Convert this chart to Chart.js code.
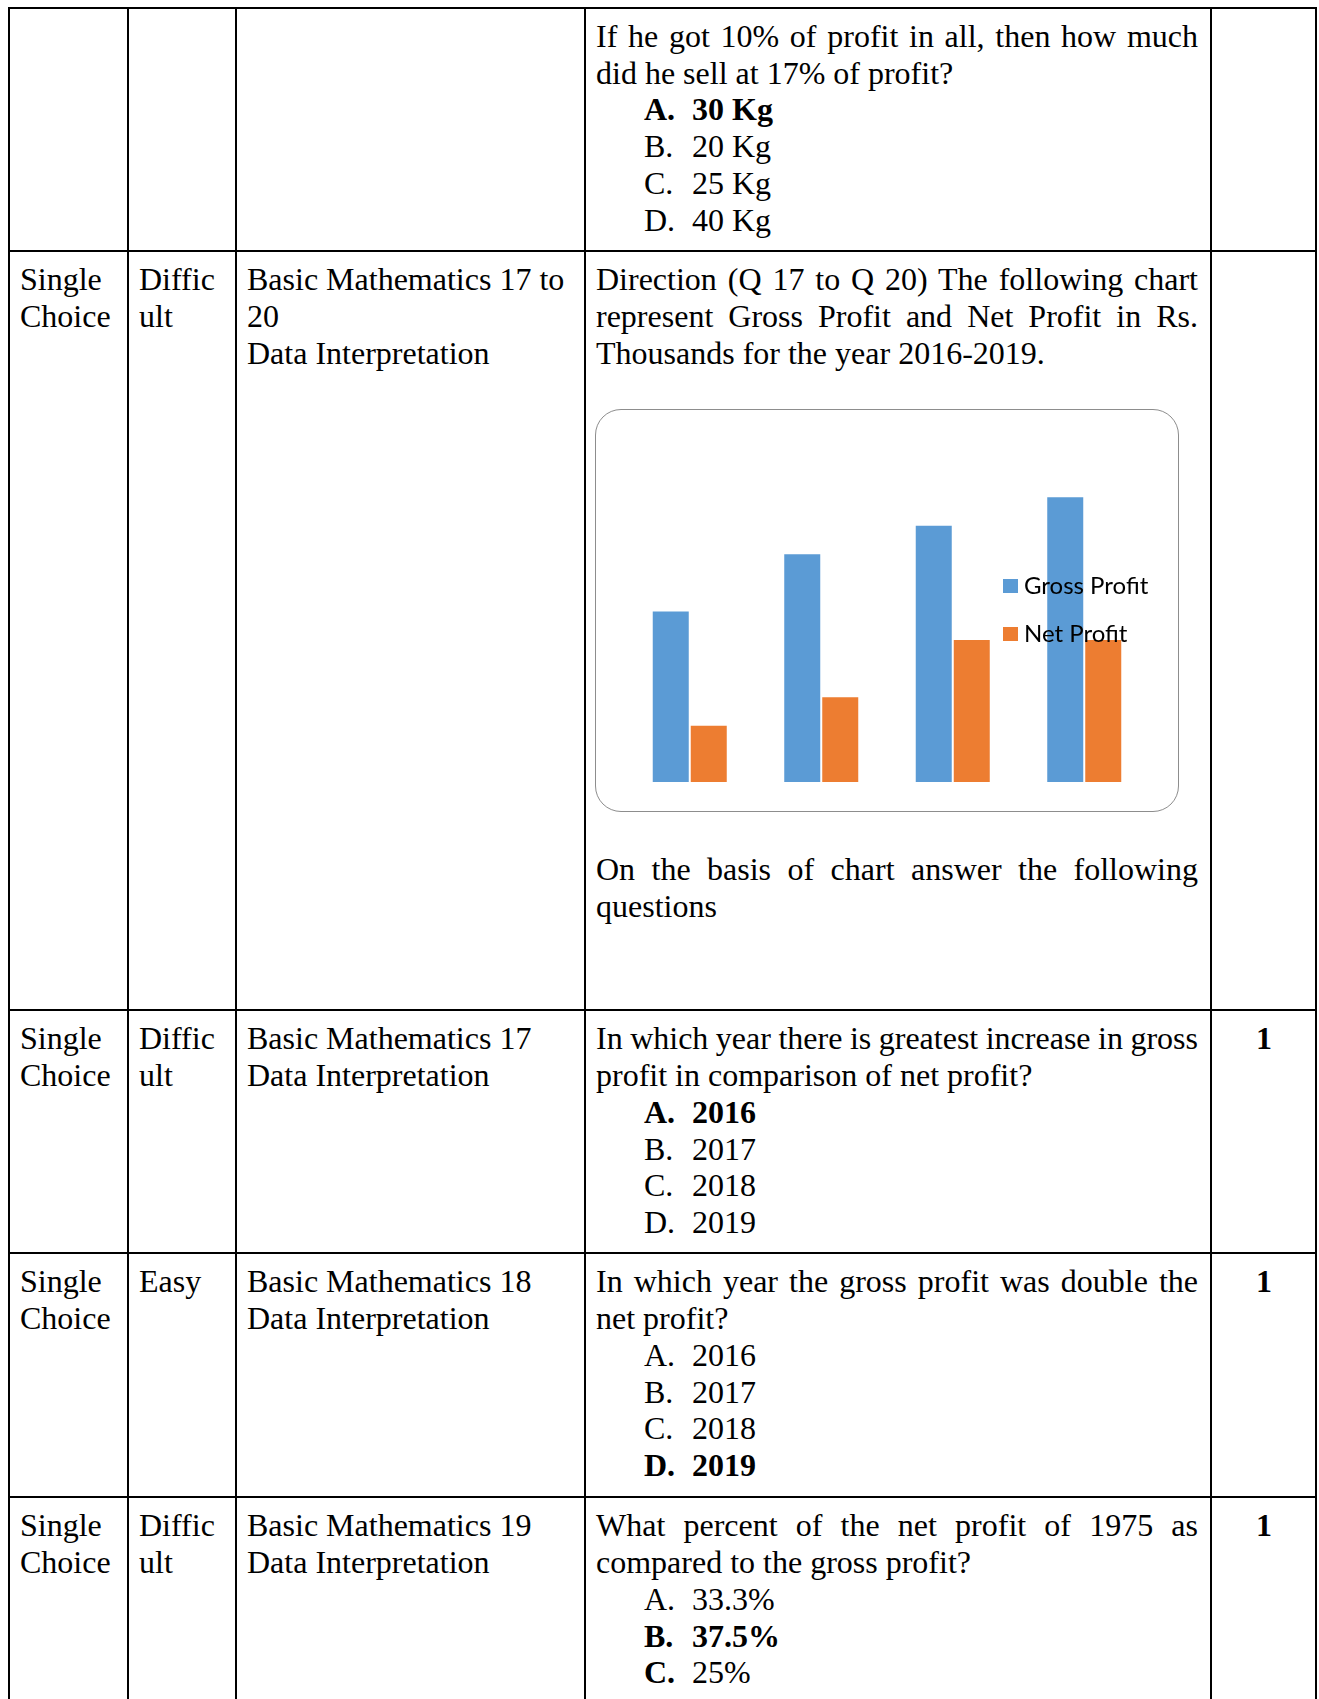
<!DOCTYPE html>
<html>
<head>
<meta charset="utf-8">
<script src="https://cdn.jsdelivr.net/npm/chart.js@4.4.1/dist/chart.umd.min.js"></script>
<style>
  html, body { margin:0; padding:0; background:#fff; }
  body { width:1319px; height:1699px; overflow:hidden; position:relative;
         font-family:"Liberation Serif","Times New Roman",serif; font-size:32px; color:#000; }
  .h { position:absolute; left:8px; width:1309px; height:2px; background:#000; }
  .v { position:absolute; top:6.5px; height:1700px; width:2px; background:#000; }
  .cell { position:absolute; line-height:36.8px; }
  .ln { white-space:nowrap; }
  .j { text-align:justify; text-align-last:justify; white-space:normal; word-spacing:-1px; }
  .opt { display:flex; padding-left:48px; white-space:nowrap; }
  .opt .k { width:48px; }
  .b { font-weight:bold; }
  .c4 { left:596px; width:602px; }
  .c5 { left:1212px; width:104px; text-align:center; font-weight:bold; }
  #chartBox { position:absolute; left:595px; top:409px; width:584px; height:403px;
              border:1.3px solid #8d8d8d; border-radius:26px; box-sizing:border-box; background:#fff; }
  #chartBox canvas { display:block; }
</style>
</head>
<body>
<script>
// ---- chart data ----
const years = ['2016', '2017', '2018', '2019'];
const grossProfit = [60, 80, 90, 100];
const netProfit = [20, 30, 50, 50];
const seriesLabels = ['Gross Profit', 'Net Profit'];
const seriesColors = ['#5B9BD5', '#ED7D31'];
</script>

<!-- grid lines -->
<div class="h" style="top:6.5px"></div>
<div class="h" style="top:249.5px"></div>
<div class="h" style="top:1009px"></div>
<div class="h" style="top:1252px"></div>
<div class="h" style="top:1496px"></div>
<div class="v" style="left:8px"></div>
<div class="v" style="left:127px"></div>
<div class="v" style="left:235px"></div>
<div class="v" style="left:584px"></div>
<div class="v" style="left:1210px"></div>
<div class="v" style="left:1315px"></div>

<!-- row 1 -->
<div class="cell c4" style="top:17.8px">
  <div class="j">If he got 10% of profit in all, then how much</div>
  <div class="ln">did he sell at 17% of profit?</div>
  <div class="opt b"><span class="k">A.</span><span>30 Kg</span></div>
  <div class="opt"><span class="k">B.</span><span>20 Kg</span></div>
  <div class="opt"><span class="k">C.</span><span>25 Kg</span></div>
  <div class="opt"><span class="k">D.</span><span>40 Kg</span></div>
</div>

<!-- row 2 -->
<div class="cell" style="left:20px;top:261px"><div class="ln">Single</div><div class="ln">Choice</div></div>
<div class="cell" style="left:139px;top:261px"><div class="ln">Diffic</div><div class="ln">ult</div></div>
<div class="cell" style="left:247px;top:261px"><div class="ln">Basic Mathematics 17 to</div><div class="ln">20</div><div class="ln">Data Interpretation</div></div>
<div class="cell c4" style="top:261px">
  <div class="j">Direction (Q 17 to Q 20) The following chart</div>
  <div class="j">represent Gross Profit and Net Profit in Rs.</div>
  <div class="ln">Thousands for the year 2016-2019.</div>
</div>
<div id="chartBox"><canvas id="c"></canvas></div>
<div class="cell c4" style="top:851px">
  <div class="j">On the basis of chart answer the following</div>
  <div class="ln">questions</div>
</div>

<!-- row 3 -->
<div class="cell" style="left:20px;top:1020.3px"><div class="ln">Single</div><div class="ln">Choice</div></div>
<div class="cell" style="left:139px;top:1020.3px"><div class="ln">Diffic</div><div class="ln">ult</div></div>
<div class="cell" style="left:247px;top:1020.3px"><div class="ln">Basic Mathematics 17</div><div class="ln">Data Interpretation</div></div>
<div class="cell c4" style="top:1020.3px">
  <div class="j">In which year there is greatest increase in gross</div>
  <div class="ln">profit in comparison of net profit?</div>
  <div class="opt b"><span class="k">A.</span><span>2016</span></div>
  <div class="opt"><span class="k">B.</span><span>2017</span></div>
  <div class="opt"><span class="k">C.</span><span>2018</span></div>
  <div class="opt"><span class="k">D.</span><span>2019</span></div>
</div>
<div class="cell c5" style="top:1020.3px">1</div>

<!-- row 4 -->
<div class="cell" style="left:20px;top:1263.3px"><div class="ln">Single</div><div class="ln">Choice</div></div>
<div class="cell" style="left:139px;top:1263.3px"><div class="ln">Easy</div></div>
<div class="cell" style="left:247px;top:1263.3px"><div class="ln">Basic Mathematics 18</div><div class="ln">Data Interpretation</div></div>
<div class="cell c4" style="top:1263.3px">
  <div class="j">In which year the gross profit was double the</div>
  <div class="ln">net profit?</div>
  <div class="opt"><span class="k">A.</span><span>2016</span></div>
  <div class="opt"><span class="k">B.</span><span>2017</span></div>
  <div class="opt"><span class="k">C.</span><span>2018</span></div>
  <div class="opt b"><span class="k">D.</span><span>2019</span></div>
</div>
<div class="cell c5" style="top:1263.3px">1</div>

<!-- row 5 -->
<div class="cell" style="left:20px;top:1507.3px"><div class="ln">Single</div><div class="ln">Choice</div></div>
<div class="cell" style="left:139px;top:1507.3px"><div class="ln">Diffic</div><div class="ln">ult</div></div>
<div class="cell" style="left:247px;top:1507.3px"><div class="ln">Basic Mathematics 19</div><div class="ln">Data Interpretation</div></div>
<div class="cell c4" style="top:1507.3px">
  <div class="j">What percent of the net profit of 1975 as</div>
  <div class="ln">compared to the gross profit?</div>
  <div class="opt"><span class="k">A.</span><span>33.3%</span></div>
  <div class="opt b"><span class="k">B.</span><span>37.5%</span></div>
  <div class="opt"><span class="k b">C.</span><span style="font-weight:normal">25%</span></div>
</div>
<div class="cell c5" style="top:1507.3px">1</div>

<script>
const overlayLegend = {
  id: 'overlayLegend',
  afterDraw(chart) {
    const ctx = chart.ctx;
    const a = chart.chartArea;
    ctx.save();
    ctx.font = '24px Lato, "Open Sans", sans-serif';
    ctx.textBaseline = 'middle';
    chart.data.datasets.forEach((ds, i) => {
      const x = a.left + 379;
      const y = a.top + 140 + i * 48;
      ctx.fillStyle = ds.backgroundColor;
      ctx.fillRect(x, y, 15, 14);
      ctx.fillStyle = '#000';
      ctx.fillText(ds.label, x + 21, y + 7);
    });
    ctx.restore();
  }
};

new Chart(document.getElementById('c'), {
  type: 'bar',
  data: {
    labels: years,
    datasets: [
      { label: seriesLabels[0], data: grossProfit, backgroundColor: seriesColors[0],
        borderColor: 'rgba(255,255,255,0.35)', borderWidth: 1, categoryPercentage: 0.578, barPercentage: 1 },
      { label: seriesLabels[1], data: netProfit, backgroundColor: seriesColors[1],
        borderColor: 'rgba(255,255,255,0.35)', borderWidth: 1, categoryPercentage: 0.578, barPercentage: 1 }
    ]
  },
  options: {
    responsive: true,
    maintainAspectRatio: false,
    animation: false,
    layout: { padding: { left: 28, right: 28, top: 29, bottom: 29 } },
    scales: {
      x: { display: false },
      y: { display: false, min: 0, max: 120 }
    },
    plugins: { legend: { display: false }, tooltip: { enabled: false } }
  },
  plugins: [overlayLegend]
});
</script>
</body>
</html>
